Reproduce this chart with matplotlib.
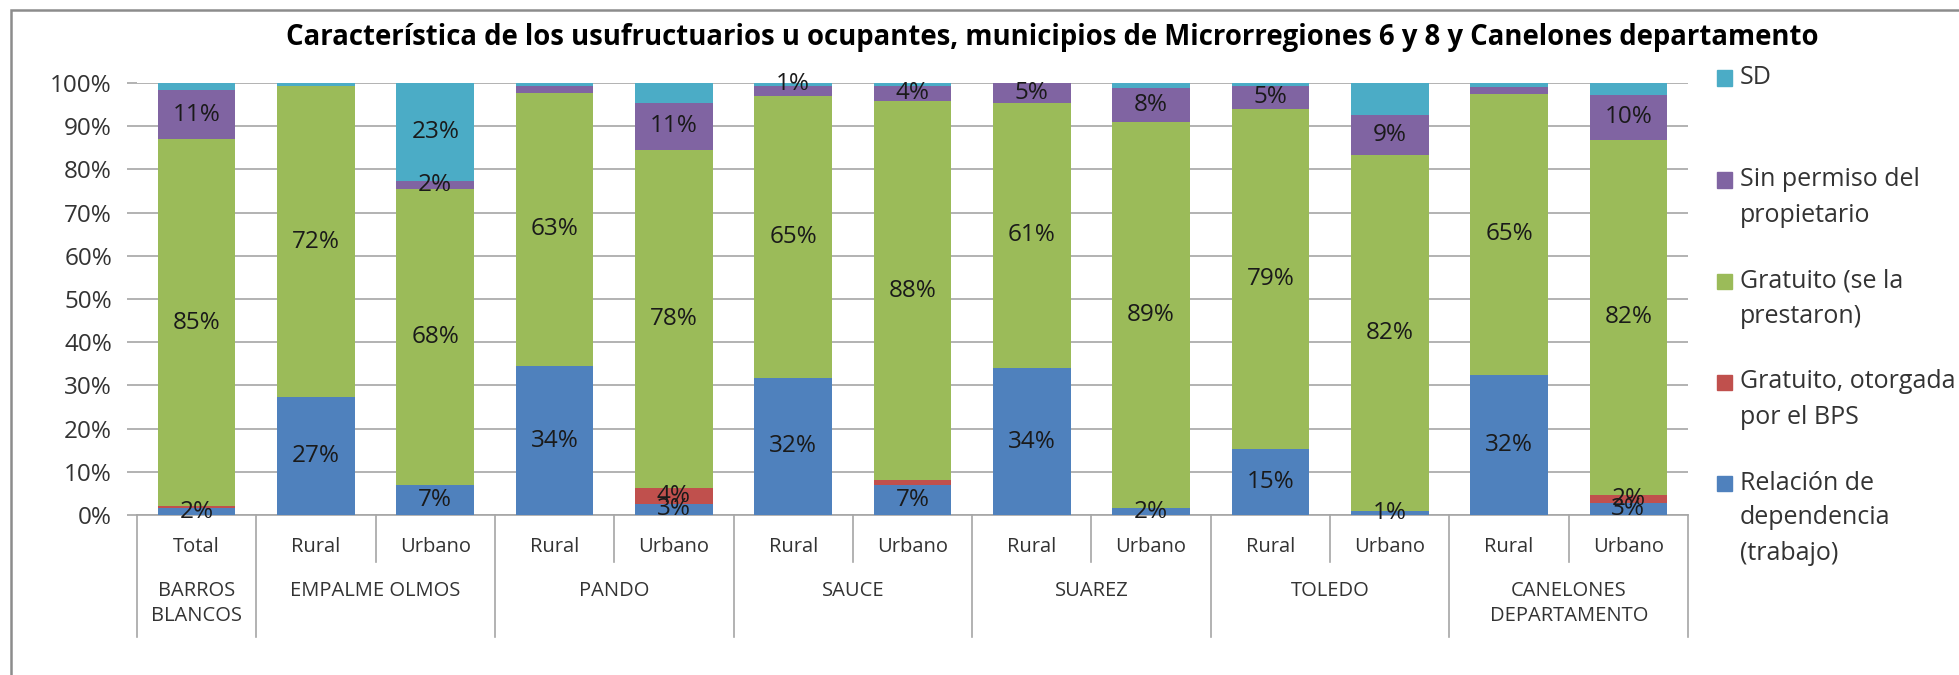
import matplotlib.pyplot as plt
import matplotlib.patches as mpatches
import numpy as np

plt.rcParams['font.family'] = ['Open Sans', 'DejaVu Sans']

categories = ['Total', 'Rural', 'Urbano', 'Rural', 'Urbano', 'Rural', 'Urbano',
              'Rural', 'Urbano', 'Rural', 'Urbano', 'Rural', 'Urbano']
groups = ['BARROS\nBLANCOS', 'EMPALME OLMOS', 'PANDO', 'SAUCE', 'SUAREZ', 'TOLEDO',
          'CANELONES\nDEPARTAMENTO']
group_sizes = [1, 2, 2, 2, 2, 2, 2]

relacion = [1.6, 27.2, 7.0, 34.4, 2.6, 31.8, 6.9, 34.0, 1.6, 15.2, 0.9, 32.4, 2.8]
bps = [0.4, 0, 0, 0, 3.6, 0, 1.2, 0, 0, 0, 0, 0, 1.8]
gratuito = [85.0, 72.1, 68.4, 63.4, 78.4, 65.3, 87.7, 61.4, 89.4, 78.8, 82.4, 65.1, 82.3]
sin_permiso = [11.4, 0, 1.8, 1.4, 10.8, 2.3, 3.6, 4.6, 7.9, 5.3, 9.3, 1.5, 10.4]
sd = [1.6, 0.7, 22.8, 0.8, 4.6, 0.6, 0.6, 0, 1.1, 0.7, 7.4, 1.0, 2.7]

# which segments carry a data label in the original
show_relacion = [1] * 13
show_bps = [0, 0, 0, 0, 1, 0, 0, 0, 0, 0, 0, 0, 1]
show_gratuito = [1] * 13
show_sin_permiso = [1, 0, 1, 0, 1, 0, 1, 1, 1, 1, 1, 0, 1]
show_sd = [0, 0, 1, 0, 0, 1, 0, 0, 0, 0, 0, 0, 0]

series = [
    ('Relación de\ndependencia\n(trabajo)', relacion, show_relacion, '#4F81BD'),
    ('Gratuito, otorgada\npor el BPS', bps, show_bps, '#C0504D'),
    ('Gratuito (se la\nprestaron)', gratuito, show_gratuito, '#9BBB59'),
    ('Sin permiso del\npropietario', sin_permiso, show_sin_permiso, '#8064A2'),
    ('SD', sd, show_sd, '#4BACC6'),
]

W, H = 1959, 675
fig = plt.figure(figsize=(W / 100, H / 100), dpi=100)
ax = fig.add_axes([137 / W, 1 - 515 / H, (1688 - 137) / W, (515 - 83) / H])

grid_c = '#A6A6A6'
x = np.arange(len(categories))
bottom = np.zeros(len(categories))
for name, vals, show, col in series:
    vals = np.array(vals, dtype=float)
    ax.bar(x, vals, 0.65, bottom=bottom, color=col, zorder=3)
    for i in range(len(x)):
        if show[i]:
            ax.text(x[i], bottom[i] + vals[i] / 2, f'{round(vals[i])}%',
                    ha='center', va='center', fontsize=17.5, color='#1a1a1a', zorder=4)
    bottom += vals

ax.set_xlim(-0.5, len(categories) - 0.5)
ax.set_ylim(0, 100)
ax.set_yticks(np.arange(0, 101, 10))
ax.set_yticklabels([f'{v}%' for v in range(0, 101, 10)], fontsize=17.5, color='#333333')
ax.tick_params(axis='y', length=7, color=grid_c, width=1.2, pad=11)
ax.set_xticks([])
ax.grid(axis='y', color=grid_c, lw=1.2, zorder=0)
for s in ['left', 'right', 'top']:
    ax.spines[s].set_visible(False)
ax.spines['bottom'].set_color(grid_c)
ax.spines['bottom'].set_linewidth(1.2)

# two-level category axis
tr = ax.get_xaxis_transform()
px = 1 / 432
for i, c in enumerate(categories):
    ax.text(x[i], -32 * px, c, transform=tr, ha='center', va='center',
            fontsize=14.5, color='#333333')
start = 0
bounds = [-0.5]
for g, n in zip(groups, group_sizes):
    mid = start + (n - 1) / 2
    ax.text(mid, -66 * px, g, transform=tr, ha='center', va='top',
            fontsize=14.5, color='#333333', linespacing=1.35)
    for k in range(1, n):
        ax.plot([start + k - 0.5] * 2, [0, -47 * px], transform=tr, color=grid_c,
                lw=1.2, clip_on=False)
    start += n
    bounds.append(start - 0.5)
for b in bounds:
    ax.plot([b, b], [0, -122 * px], transform=tr, color=grid_c, lw=1.2, clip_on=False)

fig.text(1052 / W, 1 - 37 / H,
         'Característica de los usufructuarios u ocupantes, municipios de '
         'Microrregiones 6 y 8 y Canelones departamento',
         ha='center', va='center', fontsize=19.8, fontweight='bold', color='black')

# legend, top entry first
leg_y = [78, 180, 281, 382, 483]
for (name, vals, show, col), y in zip(series[::-1], leg_y):
    fig.patches.append(mpatches.Rectangle((1717 / W, 1 - (y + 7.5) / H), 15 / W, 15 / H,
                                          transform=fig.transFigure, color=col))
    for j, line in enumerate(name.split('\n')):
        fig.text(1740 / W, 1 - (y + 35 * j) / H, line, ha='left', va='center',
                 fontsize=18, color='#333333')

fig.patches.append(mpatches.Rectangle((11 / W, -0.1), 1.2, 1.1 - 9.5 / H,
                                      transform=fig.transFigure, fill=False,
                                      edgecolor='#8C8C8C', lw=1.8))

fig.savefig('out.png', dpi=100)
